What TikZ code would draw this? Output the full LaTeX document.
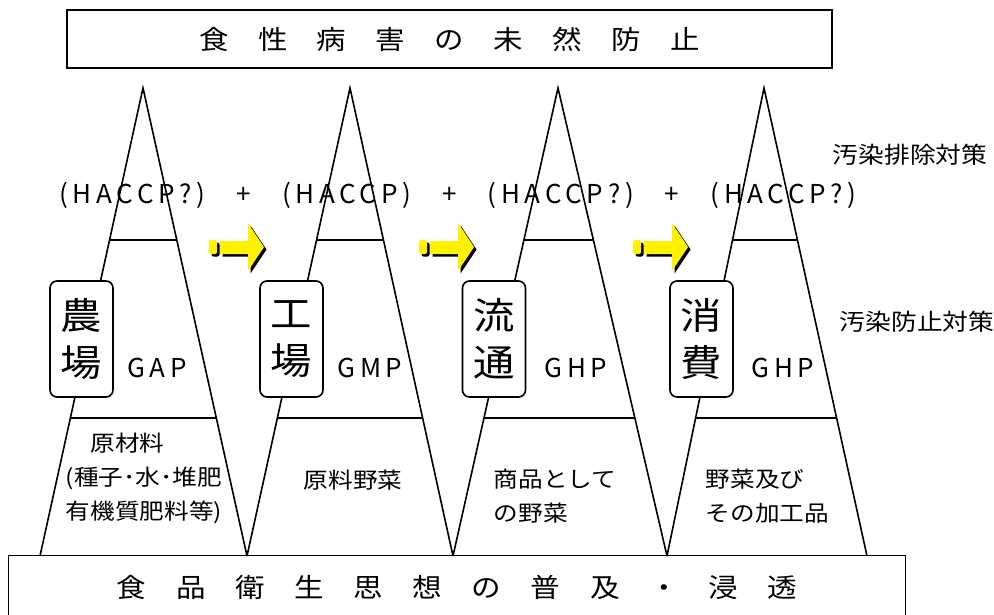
\documentclass[tikz,border=0pt]{standalone}
\usepackage{fontspec}
\setmainfont{Noto Sans CJK JP}[FakeStretch=1.12]
\newfontfamily\codefont{Noto Sans CJK JP}[LetterSpace=18]
\usetikzlibrary{calc,positioning}
\newcommand\gapsep{\hspace{1.2em}}
\begin{document}
\begin{tikzpicture}
[
  x=1pt, y=-1pt,
  line width=1.6pt,
  frame/.style={draw,line width=1.2pt,inner sep=0pt},
  stage/.style={draw,line width=1.6pt,rounded corners=7pt,fill=white,minimum width=63pt,minimum height=116pt,inner sep=0pt,align=center,font=\fontsize{37}{47}\selectfont},
  code/.style={inner sep=0pt,font=\codefont\fontsize{26}{30}\selectfont},
  item/.style={inner sep=0pt,font=\fontsize{22}{34}\selectfont},
  note/.style={inner sep=0pt,font=\fontsize{23}{26}\selectfont}
]
\useasboundingbox (0,0) rectangle (994,614);

% goal and base
\node[frame,minimum width=765pt,minimum height=58pt,font=\fontsize{26.3}{30}\selectfont] (goal) at (449.5,39) {食　性　病　害　の　未　然　防　止};
\node[minimum width=895pt,minimum height=62pt,inner sep=0pt,font=\fontsize{26.4}{30}\selectfont] (base) at (457,587.5) {食　品　衛　生　思　想　の　普　及　・　浸　透};
\draw[line width=1.2pt] (base.south west) |- (base.north east) -- (base.south east);

% haccp
\node[code] (haccp) at (458,195) {(HACCP?)\gapsep+\gapsep(HACCP)\gapsep+\gapsep(HACCP?)\gapsep+\gapsep(HACCP?)};

% triangles
\foreach \l/\t/\r [count=\i] in {40/143/247,247/350/453,453/558/667,667/764/867}{
  \coordinate (top\i) at (\t,88);
  \coordinate (bl\i) at (\l,556);
  \coordinate (br\i) at (\r,556);
  \draw (bl\i) -- (top\i) -- (br\i);
  \draw ($(bl\i)!0.675!(top\i)$) -- ($(br\i)!0.675!(top\i)$);
  \draw ($(bl\i)!0.295!(top\i)$) -- ($(br\i)!0.295!(top\i)$);
}

% stages
\node[stage] (farm) at (81.5,339) {農\\場};
\node[stage] (plant) at (291.5,339) {工\\場};
\node[stage] (market) at (494,339) {流\\通};
\node[stage] (home) at (701.5,339) {消\\費};

\node[code] (gap) at (157,368) {GAP};
\node[code] (gmp) at (370,368) {GMP};
\node[code] (ghp1) at (576,368) {GHP};
\node[code] (ghp2) at (783,368) {GHP};

% products
\node[item,align=left] (raw) at (144,478) {　原材料\\(種子･水･堆肥\\有機質肥料等)};
\node[item] (veg) at (353,480) {原料野菜};
\node[item,align=left,anchor=west] (goods) at (493,496) {商品として\\の野菜};
\node[item,align=left,anchor=west] (food) at (705,496) {野菜及び\\その加工品};

% measures
\node[note] (removal) at (910,155) {汚染排除対策};
\node[note] (prevent) at (917,322) {汚染防止対策};

% arrows
\foreach \ax in {0,210,424}
  \foreach \s/\c in {2.5/black,0/yellow}{
    \fill[\c,shift={(\ax+\s,\s)},rounded corners=2pt] (209,240) rectangle (217,254);
    \fill[\c,shift={(\ax+\s,\s)}] (220,241) -- (248,241) -- (248,223) -- (264,247) -- (248,271) -- (248,254) -- (220,254) -- cycle;
  }

\end{tikzpicture}
\end{document}
